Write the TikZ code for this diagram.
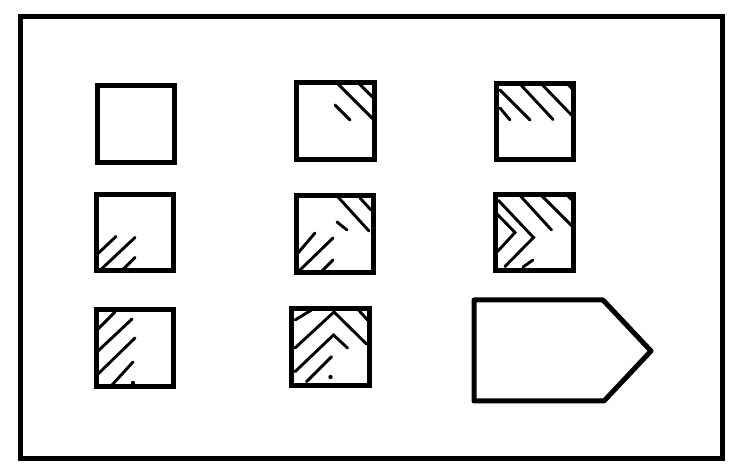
\documentclass[tikz,border=0pt]{standalone}
\usepackage{tikz}

\begin{document}
\begin{tikzpicture}[x=1pt,y=-1pt,
    tile/.style={draw, line width=5pt, minimum width=77.5pt, minimum height=76.5pt, inner sep=0pt},
    hatch/.style={line width=2.9pt, line cap=round, line join=miter}]
                \useasboundingbox (0,0) rectangle (740,473);
                % Frame
                \draw[line width=5pt] (20.5,16.5) rectangle (722.5,458.5);

                % Nodes
                \node[tile] (sq11) at (136,124) {};
                \node[tile] (sq12) at (335.5,121) {};
                \node[tile] (sq13) at (535,121.5) {};
                \node[tile] (sq21) at (135,232.5) {};
                \node[tile] (sq22) at (335,234) {};
                \node[tile] (sq23) at (534.5,232.5) {};
                \node[tile] (sq31) at (135,348) {};
                \node[tile] (sq32) at (330.5,347) {};
                \draw[line width=5pt, line join=round] (474,300) -- (603,300) -- (651,351) -- (604,401) -- (474,401) -- cycle;

                % Hatching
                \begin{scope}[shift={(sq12.center)}]
                    \draw[hatch] (2.5,-37) -- (37,-2.5);
                    \draw[hatch] (24,-37) -- (37,-24);
                    \draw[hatch] (-0.5,-16) -- (14.5,-1);
                \end{scope}
                \begin{scope}[shift={(sq13.center)}]
                    \draw[hatch] (-35,-31.5) -- (-5,-1.5);
                    \draw[hatch] (-14.5,-37) -- (18,-2);
                    \draw[hatch] (7,-37) -- (37,-6);
                    \draw[hatch] (-35,-13.5) -- (-25,-1.5);
                    \draw[hatch] (33,-37) -- (37,-33);
                \end{scope}
                \begin{scope}[shift={(sq21.center)}]
                    \draw[hatch] (-37,21) -- (-19,4);
                    \draw[hatch] (-33,36) -- (0,5);
                    \draw[hatch] (-12,37) -- (0,25);
                \end{scope}
                \begin{scope}[shift={(sq22.center)}]
                    \draw[hatch] (3,-37) -- (34,-3);
                    \draw[hatch] (25,-36) -- (36,-24);
                    \draw[hatch] (2,-12) -- (12,-4);
                    \draw[hatch] (-37,19) -- (-20,-1);
                    \draw[hatch] (-35,36) -- (-2,4);
                    \draw[hatch] (-13,37) -- (-2,26);
                \end{scope}
                \begin{scope}[shift={(sq23.center)}]
                    \draw[hatch] (-14.5,-37) -- (17,-2.5);
                    \draw[hatch] (7,-37) -- (37,-7);
                    \draw[hatch] (33,-37) -- (37,-33);
                    \draw[hatch] (-37,-18) -- (-19.5,0) -- (-37,19);
                    \draw[hatch] (-36,-32) -- (-1,5) -- (-29.5,34);
                    \draw[hatch] (-11.5,34.5) -- (-1.5,27.5);
                \end{scope}
                \begin{scope}[shift={(sq31.center)}]
                    \draw[hatch] (-37,-19) -- (-20,-36);
                    \draw[hatch] (-37,3) -- (-3,-29);
                    \draw[hatch] (-37,26) -- (0,-10);
                    \draw[hatch] (-23,37) -- (-2,14);
                    \fill (-2,35) circle (2.2pt);
                \end{scope}
                \begin{scope}[shift={(sq32.center)}]
                    \draw[hatch] (-35.5,-27) -- (-19,-37);
                    \draw[hatch] (-35.5,1) -- (3.5,-35) -- (36,-3);
                    \draw[hatch] (28,-37) -- (37,-27);
                    \draw[hatch] (-35.5,24.7) -- (3,-12) -- (17,1);
                    \draw[hatch] (-24,34.7) -- (1,9.7);
                    \fill (0,30) circle (2.2pt);
                \end{scope}
            \end{tikzpicture}
\end{document}
